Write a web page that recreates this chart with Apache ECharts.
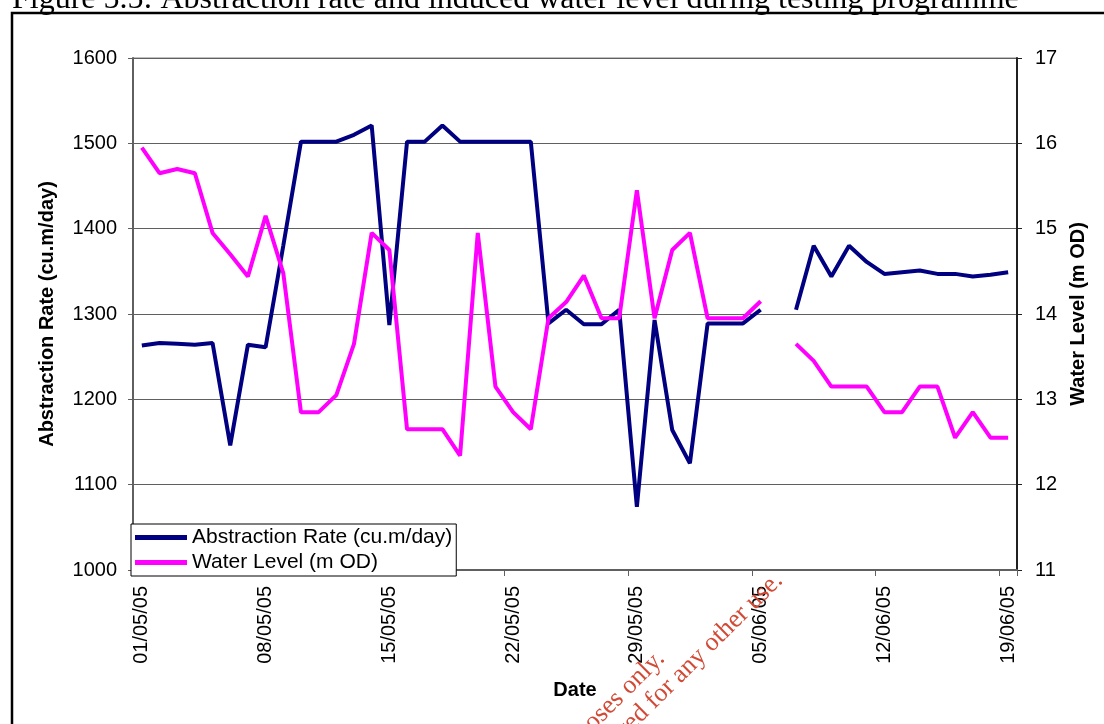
<!DOCTYPE html>
<html>
<head>
<meta charset="utf-8">
<title>Abstraction rate and water level</title>
<script src="https://cdn.jsdelivr.net/npm/echarts@6/dist/echarts.min.js"></script>
<style>
  html, body { margin: 0; padding: 0; background: #fff; }
  #chart { width: 1104px; height: 724px; }
</style>
</head>
<body>
<div id="chart"></div>
<script>
// one slot per day, 01/05/05 .. 19/06/05
var dates = [
  '01/05/05', '02/05/05', '03/05/05', '04/05/05', '05/05/05', '06/05/05', '07/05/05',
  '08/05/05', '09/05/05', '10/05/05', '11/05/05', '12/05/05', '13/05/05', '14/05/05',
  '15/05/05', '16/05/05', '17/05/05', '18/05/05', '19/05/05', '20/05/05', '21/05/05',
  '22/05/05', '23/05/05', '24/05/05', '25/05/05', '26/05/05', '27/05/05', '28/05/05',
  '29/05/05', '30/05/05', '31/05/05', '01/06/05', '02/06/05', '03/06/05', '04/06/05',
  '05/06/05', '06/06/05', '07/06/05', '08/06/05', '09/06/05', '10/06/05', '11/06/05',
  '12/06/05', '13/06/05', '14/06/05', '15/06/05', '16/06/05', '17/06/05', '18/06/05',
  '19/06/05'
];

// cu.m/day  (06/06 missing)
var abstraction = [
  1263, 1266, 1265, 1264, 1266, 1146, 1264,
  1261, 1380, 1502, 1502, 1502, 1510, 1521,
  1287, 1502, 1502, 1521, 1502, 1502, 1502,
  1502, 1502, 1289, 1305, 1288, 1288, 1305,
  1074, 1293, 1164, 1125, 1289, 1289, 1289,
  1305, null, 1305, 1380, 1344, 1380, 1361,
  1347, 1349, 1351, 1347, 1347, 1344, 1346,
  1349
];

// m OD
var waterLevel = [
  15.95, 15.65, 15.70, 15.65, 14.95, 14.70, 14.44,
  15.15, 14.48, 12.85, 12.85, 13.05, 13.65, 14.95,
  14.75, 12.65, 12.65, 12.65, 12.34, 14.95, 13.15,
  12.85, 12.65, 13.95, 14.14, 14.45, 13.95, 13.95,
  15.45, 13.95, 14.75, 14.95, 13.95, 13.95, 13.95,
  14.15, null, 13.65, 13.45, 13.15, 13.15, 13.15,
  12.85, 12.85, 13.15, 13.15, 12.55, 12.85, 12.55,
  12.55
];

var titleText = 'Figure 5.5: Abstraction rate and induced water level during testing programme';
var stampLines = [
  'For inspection purposes only.',
  'Consent of copyright owner required for any other use.'
];

var sans = '"Liberation Sans", Arial, sans-serif';
var serif = '"Liberation Serif", "Times New Roman", serif';

var chart = echarts.init(document.getElementById('chart'));

var option = {
  animation: false,
  textStyle: { fontFamily: sans, color: '#000' },
  grid: { left: 133, right: 87, top: 58, bottom: 154, show: true, borderColor: '#808080', borderWidth: 1 },
  legend: {
    orient: 'vertical',
    left: 131,
    top: 524,
    backgroundColor: '#fff',
    borderColor: '#000',
    borderWidth: 1,
    padding: [3, 4, 3, 4],
    itemGap: 4,
    itemWidth: 52,
    itemHeight: 5,
    icon: 'rect',
    textStyle: { fontFamily: sans, fontSize: 21, color: '#000' },
    data: ['Abstraction Rate (cu.m/day)', 'Water Level (m OD)']
  },
  xAxis: {
    type: 'category',
    data: dates,
    boundaryGap: true,
    name: 'Date',
    nameLocation: 'middle',
    nameGap: 110,
    nameTextStyle: { fontFamily: sans, fontSize: 20, fontWeight: 'bold', color: '#000' },
    axisLine: { lineStyle: { color: '#606060', width: 2 } },
    axisTick: { show: true, interval: 6, alignWithLabel: false, length: 6, lineStyle: { color: '#606060', width: 1 } },
    axisLabel: { interval: 6, rotate: 90, margin: 16, fontSize: 20, color: '#000', fontFamily: sans },
    splitLine: { show: false }
  },
  yAxis: [
    {
      type: 'value',
      min: 1000,
      max: 1600,
      interval: 100,
      name: 'Abstraction Rate (cu.m/day)',
      nameLocation: 'middle',
      nameGap: 76,
      nameTextStyle: { fontFamily: sans, fontSize: 20, fontWeight: 'bold', color: '#000' },
      axisLine: { show: true, lineStyle: { color: '#606060', width: 2 } },
      axisTick: { show: true, length: 5, lineStyle: { color: '#606060' } },
      axisLabel: {
        margin: 16, fontSize: 20, color: '#000', fontFamily: sans,
        formatter: function (v) { return String(v); }
      },
      splitLine: { show: true, lineStyle: { color: '#606060', width: 1 } }
    },
    {
      type: 'value',
      min: 11,
      max: 17,
      interval: 1,
      position: 'right',
      name: 'Water Level (m OD)',
      nameLocation: 'middle',
      nameGap: 48,
      nameTextStyle: { fontFamily: sans, fontSize: 20, fontWeight: 'bold', color: '#000' },
      axisLine: { show: true, lineStyle: { color: '#202020', width: 2 } },
      axisTick: { show: true, length: 5, lineStyle: { color: '#202020' } },
      axisLabel: { margin: 18, fontSize: 20, color: '#000', fontFamily: sans },
      splitLine: { show: false }
    }
  ],
  series: [
    {
      name: 'Abstraction Rate (cu.m/day)',
      type: 'line',
      yAxisIndex: 0,
      data: abstraction,
      showSymbol: false,
      symbol: 'none',
      connectNulls: false,
      color: '#000080',
      lineStyle: { color: '#000080', width: 4 },
      z: 3
    },
    {
      name: 'Water Level (m OD)',
      type: 'line',
      yAxisIndex: 1,
      data: waterLevel,
      showSymbol: false,
      symbol: 'none',
      connectNulls: false,
      color: '#ff00ff',
      lineStyle: { color: '#ff00ff', width: 4 },
      z: 4
    }
  ],
  graphic: [
    {
      type: 'rect',
      z: -10,
      shape: { x: 12, y: 13, width: 1200, height: 800 },
      style: { fill: 'none', stroke: '#000', lineWidth: 2.5 }
    },
    {
      type: 'text',
      x: 12,
      y: 16,
      style: { text: titleText, font: '32px ' + serif, fill: '#000', align: 'left', verticalAlign: 'bottom' }
    },
    {
      type: 'text',
      x: 670,
      y: 664,
      rotation: 0.78,
      z: 100,
      style: { text: stampLines[0], font: '26px ' + serif, fill: '#d24a36', align: 'right', verticalAlign: 'bottom' }
    },
    {
      type: 'text',
      x: 788,
      y: 586,
      rotation: 0.78,
      z: 100,
      style: { text: stampLines[1], font: '26px ' + serif, fill: '#d24a36', align: 'right', verticalAlign: 'bottom' }
    }
  ]
};

chart.setOption(option);
</script>
</body>
</html>
